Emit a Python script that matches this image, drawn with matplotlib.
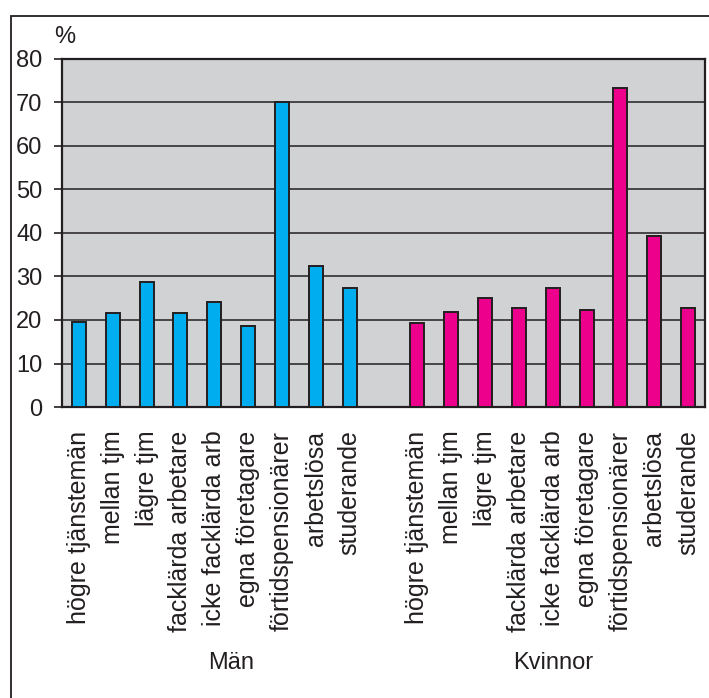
import matplotlib
matplotlib.use("Agg")
import matplotlib.pyplot as plt
import matplotlib.transforms as mtransforms
import numpy as np

# yrkesgrupper, andel i procent
categories = ["högre tjänstemän", "mellan tjm", "lägre tjm", "facklärda arbetare",
              "icke facklärda arb", "egna företagare", "förtidspensionärer",
              "arbetslösa", "studerande"]
man = [19.6, 21.5, 28.8, 21.5, 24.2, 18.7, 70.0, 32.5, 27.3]
kvinnor = [19.3, 21.8, 25.1, 22.7, 27.3, 22.4, 73.3, 39.2, 22.7]
groups = ["Män", "Kvinnor"]

plt.rcParams["font.family"] = ["Liberation Sans", "DejaVu Sans"]
INK = "#231f20"
FS = 17

fig = plt.figure(figsize=(7.09, 6.98), dpi=100)
ax = fig.add_axes([0.0874, 0.4169, 0.9070, 0.4986])

n = len(categories)
x_man = np.arange(n)
x_kv = np.arange(n) + n + 1
w = 0.41
ax.bar(x_man, man, width=w, color="#00aeef", edgecolor=INK, lw=1.4, zorder=3)
ax.bar(x_kv, kvinnor, width=w, color="#ec008c", edgecolor=INK, lw=1.4, zorder=3)

ax.set_facecolor("#d1d2d4")
ax.set_xlim(-0.5, 2 * n + 0.5)
ax.set_ylim(0, 80)
ax.set_yticks(range(0, 81, 10))
ax.yaxis.grid(True, color=INK, lw=1.1, zorder=1)
ax.set_axisbelow(True)
for s in ax.spines.values():
    s.set_color(INK)
    s.set_linewidth(1.6)
ax.tick_params(axis="y", length=6, width=1.2, color=INK, pad=8,
               labelsize=FS, labelcolor=INK)

ax.set_xticks(np.concatenate([x_man, x_kv]))
ax.set_xticklabels(categories + categories, rotation=90, fontsize=18, color=INK)
ax.tick_params(axis="x", length=0, pad=17)

# enhet ovanför y-axeln
pct = mtransforms.blended_transform_factory(ax.transData, ax.transAxes)
ax.text(-0.72, 1.063, "%", transform=pct, fontsize=FS, color=INK,
        ha="left", va="center")

# grupprubriker under etiketterna (y i pixlar från nederkanten)
grp = mtransforms.blended_transform_factory(ax.transData,
                                            mtransforms.IdentityTransform())
for xc, g in zip([4.5, 14.0], groups):
    ax.text(xc, 35, g, transform=grp, fontsize=FS, color=INK,
            ha="center", va="center")

# ram runt figuren (höger- och nederkant hamnar utanför bilden)
frame = plt.Rectangle((11 / 709, -0.05), 1.2, 1 - 16 / 698 + 0.05,
                      transform=fig.transFigure, fill=False, ec=INK, lw=1.3)
fig.add_artist(frame)

fig.savefig("out.png", dpi=100)
